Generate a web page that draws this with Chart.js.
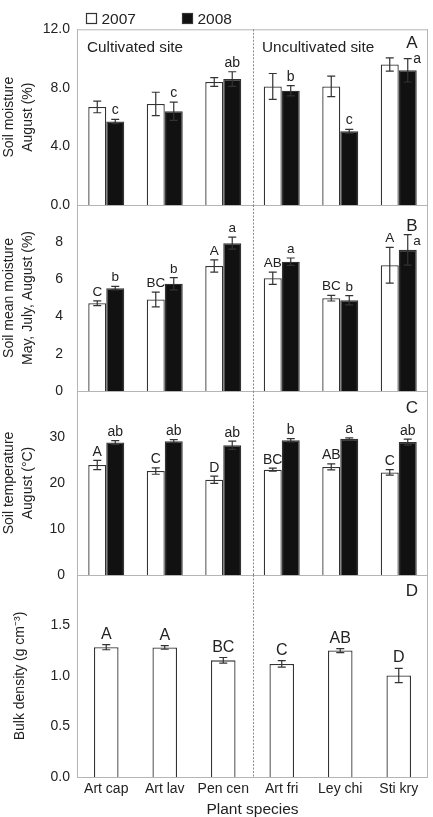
<!DOCTYPE html>
<html><head><meta charset="utf-8">
<script src="https://cdn.jsdelivr.net/npm/chart.js@4.4.1/dist/chart.umd.min.js"></script>
<style>
html,body{margin:0;padding:0;background:#fff;}
#wrap{position:relative;width:433px;height:817px;overflow:hidden;background:#fff;}
canvas{position:absolute;left:0;}
</style></head><body>
<div id="wrap">
<canvas id="cA" width="433" height="230" style="top:0px"></canvas>
<canvas id="cB" width="433" height="236" style="top:180px"></canvas>
<canvas id="cC" width="433" height="234" style="top:366px"></canvas>
<canvas id="cD" width="433" height="267" style="top:550px"></canvas>
</div>
<script>
// ---- data ----
const species = ['Art cap','Art lav','Pen cen','Art fri','Ley chi','Sti kry'];
const years = ['2007','2008'];
const siteLabels = ['Cultivated site','Uncultivated site'];
const panelLetters = ['A','B','C','D'];

const moistAug2007 = [6.7,6.9,8.4,8.1,8.1,9.6];
const moistAug2007Err = [0.4,0.8,0.3,0.88,0.7,0.45];
const moistAug2008 = [5.7,6.4,8.6,7.8,5.03,9.2];
const moistAug2008Err = [0.15,0.62,0.5,0.35,0.13,0.8];
const moistAugLetters2008 = ['c','c','ab','b','c','a'];

const moistMean2007 = [4.72,4.92,6.72,6.06,4.99,6.76];
const moistMean2007Err = [0.13,0.4,0.33,0.33,0.15,0.96];
const moistMean2008 = [5.53,5.77,7.95,6.95,4.88,7.59];
const moistMean2008Err = [0.09,0.33,0.32,0.2,0.25,0.82];
const moistMeanLetters2007 = ['C','BC','A','AB','BC','A'];
const moistMeanLetters2008 = ['b','b','a','a','b','a'];

const temp2007 = [23.9,22.6,20.7,22.9,23.5,22.3];
const temp2007Err = [1.0,0.7,0.8,0.35,0.65,0.6];
const temp2008 = [28.8,29.1,28.2,29.3,29.6,28.9];
const temp2008Err = [0.4,0.35,0.9,0.35,0.2,0.65];
const tempLetters2007 = ['A','C','D','BC','AB','C'];
const tempLetters2008 = ['ab','ab','ab','b','a','ab'];

const bulk = [1.285,1.283,1.155,1.12,1.252,1.005];
const bulkErr = [0.025,0.018,0.028,0.033,0.02,0.07];
const bulkLetters = ['A','A','BC','C','AB','D'];

const ticksA = ['0.0','4.0','8.0','12.0'];
const ticksB = ['0','2','4','6','8',''];
const ticksC = ['0','10','20','30',''];
const ticksD = ['0.0','0.5','1.0','1.5',''];

const titleA = ['Soil moisture','August (%)'];
const titleB = ['Soil mean moisture','May, July, August (%)'];
const titleC = ['Soil temperature','August (\u00B0C)'];
const titleD = 'Bulk density (g cm\u207B\u00B3)';
const xTitle = 'Plant species';

// ---- styling ----
const FONT = '"Liberation Sans", Arial, Helvetica, sans-serif';
Chart.defaults.font.family = FONT;
Chart.defaults.color = '#222';
Chart.defaults.animation = false;

const errPlugin = {
  id:'errLetters',
  afterDatasetsDraw(chart, args, o){
    if(!o || !o.errors) return;
    const ctx = chart.ctx, ys = chart.scales.y;
    chart.data.datasets.forEach((ds,i)=>{
      const meta = chart.getDatasetMeta(i);
      const errs = o.errors[i], lets = o.letters[i];
      meta.data.forEach((el,j)=>{
        const v = ds.data[j], e = errs[j];
        const yT = ys.getPixelForValue(v+e), yB = ys.getPixelForValue(v-e);
        const x = el.x;
        ctx.save();
        ctx.strokeStyle = '#333'; ctx.lineWidth = 1.2;
        ctx.beginPath();
        ctx.moveTo(x,yT); ctx.lineTo(x,yB);
        ctx.moveTo(x-o.cap,yT); ctx.lineTo(x+o.cap,yT);
        ctx.moveTo(x-o.cap,yB); ctx.lineTo(x+o.cap,yB);
        ctx.stroke();
        if (lets && lets[j]) {
          ctx.fillStyle = '#222';
          ctx.font = o.fontSize + 'px ' + FONT;
          ctx.textBaseline = 'alphabetic';
          if (o.side && o.side.dataset===i && o.side.index===j) {
            ctx.textAlign = 'left';
            ctx.fillText(lets[j], x+o.side.dx, yT+o.side.dy);
          } else {
            ctx.textAlign = 'center';
            ctx.fillText(lets[j], x, yT-o.gap);
          }
        }
        ctx.restore();
      });
    });
  }
};

const framePlugin = {
  id:'frame',
  afterDatasetsDraw(chart, args, o){
    const {ctx, chartArea:a} = chart;
    const xs = chart.scales.x;
    ctx.save();
    ctx.strokeStyle = '#b5b5b5'; ctx.lineWidth = 1;
    ctx.beginPath();
    ctx.moveTo(a.left+0.5, a.top); ctx.lineTo(a.left+0.5, a.bottom+0.5);
    ctx.moveTo(a.right-0.5, a.top); ctx.lineTo(a.right-0.5, a.bottom+0.5);
    ctx.moveTo(a.left, a.bottom+0.5); ctx.lineTo(a.right, a.bottom+0.5);
    if (o.top) { ctx.moveTo(a.left, a.top+0.5); ctx.lineTo(a.right, a.top+0.5); }
    ctx.stroke();
    // site divider
    const xd = Math.round(xs.getPixelForValue(2.5))+0.5;
    ctx.strokeStyle = '#8a8a8a'; ctx.setLineDash([2,1.5]);
    ctx.beginPath(); ctx.moveTo(xd, a.top); ctx.lineTo(xd, a.bottom+1); ctx.stroke();
    ctx.restore();
  },
  afterDraw(chart, args, o){
    const {ctx, chartArea:a} = chart;
    const xs = chart.scales.x;
    ctx.save();
    ctx.fillStyle = '#222'; ctx.textBaseline = 'alphabetic';
    // panel letter
    ctx.font = '17px ' + FONT; ctx.textAlign = 'center';
    ctx.fillText(o.letter, a.right - 16, a.top + o.letterDy);
    if (o.sites) {
      ctx.font = '15.3px ' + FONT; ctx.textAlign = 'left';
      ctx.fillText(siteLabels[0], a.left + 10, a.top + 22.4);
      ctx.fillText(siteLabels[1], xs.getPixelForValue(2.5) + 9.5, a.top + 22.4);
    }
    if (o.legend) {
      const ds = chart.data.datasets;
      const pos = [a.left + 9, a.left + 105];
      ctx.font = '15.5px ' + FONT; ctx.textAlign = 'left';
      ds.forEach((d,i)=>{
        ctx.fillStyle = d.backgroundColor; ctx.strokeStyle = '#333'; ctx.lineWidth = 1.2;
        ctx.fillRect(pos[i]+0.5, 13.5, 10, 10); ctx.strokeRect(pos[i]+0.5, 13.5, 10, 10);
        ctx.fillStyle = '#222';
        ctx.fillText(d.label, pos[i] + 15.5, 23.5);
      });
    }
    ctx.restore();
  }
};

function yAxis(min,max,step,labels,title,pad,titlePad){
  return {
    min, max,
    ticks:{stepSize:step, autoSkip:false, padding:pad, color:'#222', font:{size:14},
      callback:(v,i)=> labels[i] !== undefined ? labels[i] : ''},
    grid:{display:false, drawTicks:false},
    border:{display:false},
    title:{display:true, text:title, color:'#222', font:{size:14, lineHeight:1.32}, padding:{top:titlePad,bottom:0}},
    afterFit(s){ s.width = 77; }
  };
}
const xHidden = {display:false};

function barDs(label, data, fill){
  return {label, data, backgroundColor: fill, borderColor:'#333', borderWidth:1.3,
          borderSkipped:'bottom', barPercentage:1, categoryPercentage:0.615};
}

function makeChart(id, datasets, y, x, padding, frameOpts, errOpts){
  return new Chart(document.getElementById(id), {
    type:'bar',
    data:{labels:species, datasets},
    options:{
      responsive:false, animation:false, devicePixelRatio:1,
      layout:{padding, autoPadding:false},
      scales:{x, y},
      plugins:{legend:{display:false}, tooltip:{enabled:false}, title:{display:false},
        frame:frameOpts, errLetters:errOpts}
    },
    plugins:[errPlugin, framePlugin]
  });
}

// Panel A
makeChart('cA',
  [barDs(years[0], moistAug2007, '#ffffff'), barDs(years[1], moistAug2008, '#111111')],
  yAxis(0,12,4,ticksA,titleA,7,0), xHidden,
  {top:29.3, bottom:25, left:0, right:5},
  {letter:panelLetters[0], letterDy:18.7, sites:true, legend:true, top:true},
  {errors:[moistAug2007Err, moistAug2008Err], letters:[null, moistAugLetters2008], cap:4, gap:5, fontSize:14,
   side:{dataset:1, index:5, dx:5.5, dy:4.5}});

// Panel B
makeChart('cB',
  [barDs(years[0], moistMean2007, '#ffffff'), barDs(years[1], moistMean2008, '#111111')],
  yAxis(0,10,2,ticksB,titleB,14,0), xHidden,
  {top:25, bottom:25, left:0, right:5},
  {letter:panelLetters[1], letterDy:25.7},
  {errors:[moistMean2007Err, moistMean2008Err], letters:[moistMeanLetters2007, moistMeanLetters2008], cap:4, gap:5, fontSize:13.5,
   side:{dataset:1, index:5, dx:5.5, dy:10}});

// Panel C
makeChart('cC',
  [barDs(years[0], temp2007, '#ffffff'), barDs(years[1], temp2008, '#111111')],
  yAxis(0,40,10,ticksC,titleC,12,0), xHidden,
  {top:25, bottom:25, left:0, right:5},
  {letter:panelLetters[2], letterDy:22},
  {errors:[temp2007Err, temp2008Err], letters:[tempLetters2007, tempLetters2008], cap:4, gap:4.5, fontSize:14});

// Panel D
const dsD = barDs('Bulk density', bulk, '#ffffff');
dsD.categoryPercentage = 0.42;
makeChart('cD',
  [dsD],
  yAxis(0,2,0.5,ticksD,titleD,7,11),
  { ticks:{color:'#222', font:{size:14}, padding:4, maxRotation:0, autoSkip:false},
    grid:{display:false, drawTicks:false}, border:{display:false},
    title:{display:true, text:xTitle, color:'#222', font:{size:15.5, lineHeight:1}, padding:0},
    afterFit(s){ s.height = 40; } },
  {top:25, bottom:0, left:0, right:5},
  {letter:panelLetters[3], letterDy:21},
  {errors:[bulkErr], letters:[bulkLetters], cap:4, gap:6, fontSize:16});
</script>
</body></html>
